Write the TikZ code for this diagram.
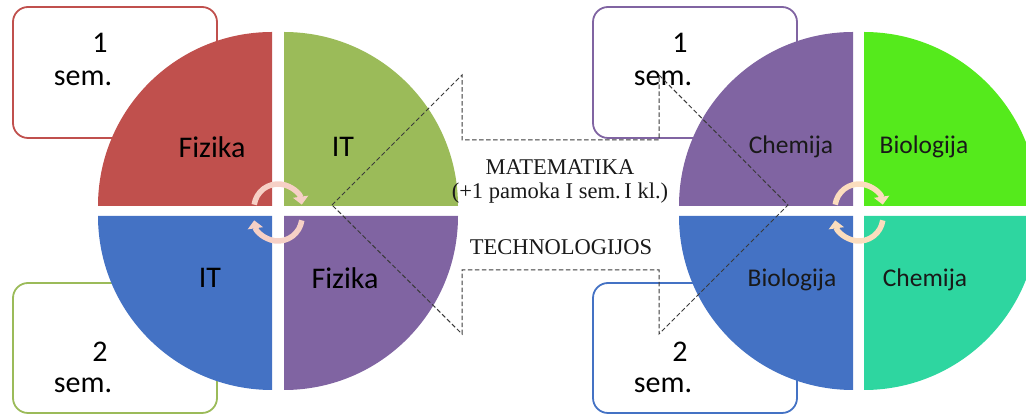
\documentclass[tikz,border=0pt]{standalone}
\usepackage{fontspec}
\setmainfont{Carlito}
\newfontfamily\seriffont{Liberation Serif}
\usetikzlibrary{arrows.meta}
\definecolor{qred}{HTML}{C0504D}
\definecolor{qgreen}{HTML}{9BBB59}
\definecolor{qblue}{HTML}{4472C4}
\definecolor{qpurple}{HTML}{8064A2}
\definecolor{qlime}{HTML}{55EA1C}
\definecolor{qteal}{HTML}{2ED6A0}
\definecolor{arrpink}{HTML}{F6D0C6}
\definecolor{arrpeach}{HTML}{FBDDBE}
\definecolor{dashgray}{HTML}{3A3A3A}
\tikzset{
  sembox/.style={draw, line width=1.8pt, rounded corners=15pt, fill=white},
  biglabel/.style={font=\fontsize{30}{36}\selectfont, text=black, inner sep=0pt},
  smalllabel/.style={font=\fontsize{25.5}{30}\selectfont, text=black!90, inner sep=0pt},
  midtext/.style={font=\seriffont\fontsize{22.5}{26}\selectfont, text=black!90, inner sep=0pt},
  rotarrow/.style={line width=5.5pt, -{Triangle[width=15pt,length=8pt]}},
  calloutline/.style={draw=dashgray, line width=1pt, dash pattern=on 4.5pt off 2.5pt}
}
\begin{document}
\begin{tikzpicture}[x=1pt,y=1pt]
\useasboundingbox (0,0) rectangle (1026,414);
% semester boxes
\draw[sembox, draw=qred]    (13,276) rectangle (217,407);
\draw[sembox, draw=qgreen]  (13,1)   rectangle (217,131);
\draw[sembox, draw=qpurple] (593,276) rectangle (797,407);
\draw[sembox, draw=qblue]   (593,1)   rectangle (797,131);
% left cluster quadrants
\fill[qred]    (272,208) -- (98,208)  arc (180:90:174)  -- cycle;
\fill[qgreen]  (284,208) -- (284,382) arc (90:0:174)    -- cycle;
\fill[qblue]   (272,198) -- (98,198)  arc (180:270:174) -- cycle;
\fill[qpurple] (284,198) -- (458,198) arc (0:-90:174)   -- cycle;
% right cluster quadrants
\fill[qpurple] (853,208) -- (679,208) arc (180:90:174)  -- cycle;
\fill[qlime]   (864,208) -- (864,382) arc (90:0:174)    -- cycle;
\fill[qblue]   (853,198) -- (679,198) arc (180:270:174) -- cycle;
\fill[qteal]   (864,198) -- (1038,198) arc (0:-90:174)  -- cycle;
% rotation arrows
\draw[rotarrow, arrpink]  (278,206) ++(172:24) arc (172:8:24);
\draw[rotarrow, arrpink]  (278,197) ++(-8:24) arc (-8:-172:24);
\draw[rotarrow, arrpeach] (859,206) ++(172:24) arc (172:8:24);
\draw[rotarrow, arrpeach] (859,197) ++(-8:24) arc (-8:-172:24);
% box texts
\node[biglabel] (b1a) at (100,371) {1};
\node[biglabel] (b1b) at (83,336) {sem.};
\node[biglabel] (b2a) at (100,62) {2};
\node[biglabel] (b2b) at (83,29) {sem.};
\node[biglabel] (b3a) at (680,371) {1};
\node[biglabel] (b3b) at (663,336) {sem.};
\node[biglabel] (b4a) at (680,62) {2};
\node[biglabel] (b4b) at (663,29) {sem.};
% quadrant labels
\node[biglabel] (lq1) at (212,267) {Fizika};
\node[biglabel] (lq2) at (343,267) {IT};
\node[biglabel] (lq3) at (210,136) {IT};
\node[biglabel] (lq4) at (345,136) {Fizika};
\node[smalllabel] (rq1) at (791,267) {Chemija};
\node[smalllabel] (rq2) at (924,267) {Biologija};
\node[smalllabel] (rq3) at (792,134) {Biologija};
\node[smalllabel] (rq4) at (925,134) {Chemija};
% dashed double arrow callout
\draw[calloutline] (332,209) -- (462,339) -- (462,274) -- (659,274) -- (659,339) -- (788,209)
  -- (659,80) -- (659,144) -- (462,144) -- (462,80) -- cycle;
\node[midtext] (m1) at (560,247) {MATEMATIKA};
\node[midtext] (m2) at (560,221) {(+1 pamoka I sem.\,I kl.)};
\node[midtext] (m3) at (561,167) {TECHNOLOGIJOS};
\end{tikzpicture}
\end{document}
